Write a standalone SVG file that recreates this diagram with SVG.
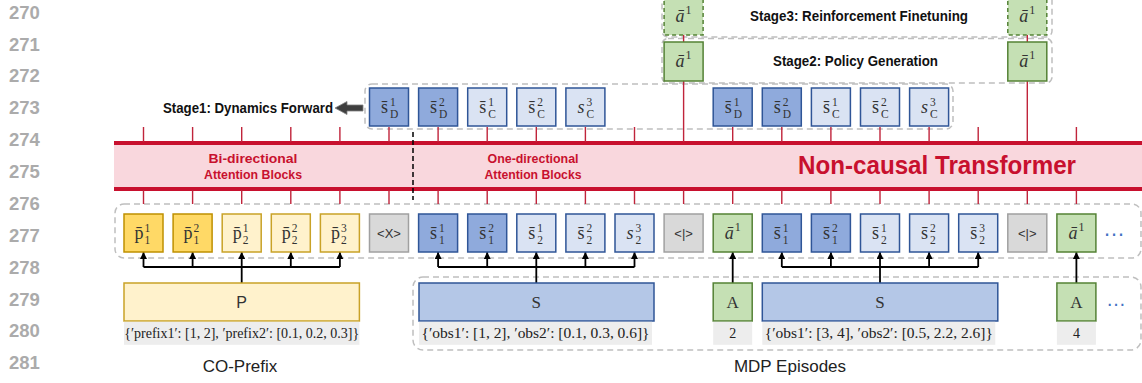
<svg xmlns="http://www.w3.org/2000/svg" width="1142" height="383" viewBox="0 0 1142 383">
<defs>
<style>
.ln{font-family:"Liberation Sans",Arial,sans-serif;font-weight:bold;font-size:18.5px;fill:#ababab}
.b{stroke-width:1.5}
.dy{fill:#FFD966;stroke:#BF9000}
.ly{fill:#FFF2CC;stroke:#C9A227}
.gr{fill:#D9D9D9;stroke:#A0A0A0}
.db{fill:#8FAADC;stroke:#2F5597}
.lb{fill:#DAE3F3;stroke:#2F5597}
.mb{fill:#B4C7E7;stroke:#2F5597}
.gn{fill:#C5E0B4;stroke:#548235}
.dash{stroke-dasharray:4 3}
.m{font-family:"Liberation Serif","DejaVu Serif",serif;font-size:18px;fill:#333;text-anchor:middle}
.i{font-style:italic}
.sp{font-family:"Liberation Serif","DejaVu Serif",serif;font-size:11.5px;fill:#333}
.tx{font-family:"Liberation Sans",Arial,sans-serif;font-size:13px;fill:#333;text-anchor:middle}
.tick{stroke:#C0243B;stroke-width:1.4;fill:none}
.cont{fill:none;stroke:#BFBFBF;stroke-width:1.5;stroke-dasharray:6 4}
.conn{fill:none;stroke:#000;stroke-width:1.8}
.st{font-family:"Liberation Sans",Arial,sans-serif;font-weight:bold;font-size:14px;fill:#111}
.rt{font-family:"Liberation Sans",Arial,sans-serif;font-weight:bold;font-size:13px;fill:#C8102E;text-anchor:middle}
.strip{fill:#EDEDED}
.js{font-family:"Liberation Serif","DejaVu Serif",serif;font-size:14px;fill:#222;text-anchor:middle}
.cap{font-family:"Liberation Sans",Arial,sans-serif;font-size:17px;fill:#222;text-anchor:middle}
.dots{font-family:"Liberation Sans",Arial,sans-serif;font-size:22px;fill:#4472C4}
</style>
<marker id="ah" viewBox="0 0 10 10" refX="10" refY="5" markerWidth="7" markerHeight="7" markerUnits="userSpaceOnUse" orient="auto">
<path d="M0 0L10 5L0 10z" fill="#000"/>
</marker>
</defs>
<rect width="1142" height="383" fill="#fff"/>

<g id="line-numbers">
<text class="ln" x="9" y="19">270</text>
<text class="ln" x="9" y="51">271</text>
<text class="ln" x="9" y="82">272</text>
<text class="ln" x="9" y="114">273</text>
<text class="ln" x="9" y="146">274</text>
<text class="ln" x="9" y="178">275</text>
<text class="ln" x="9" y="210">276</text>
<text class="ln" x="9" y="242">277</text>
<text class="ln" x="9" y="274">278</text>
<text class="ln" x="9" y="306">279</text>
<text class="ln" x="9" y="337">280</text>
<text class="ln" x="9" y="369">281</text>
</g>

<g id="containers">
<rect class="cont" x="662" y="-10" width="390" height="47" rx="6"/>
<rect class="cont" x="662" y="38.5" width="390" height="44.5" rx="6"/>
<rect class="cont" x="365" y="84" width="588" height="45" rx="7"/>
<rect class="cont" x="115" y="204" width="1026" height="54" rx="9"/>
<rect class="cont" x="413" y="277" width="728" height="73" rx="10"/>
</g>

<g id="transformer">
<rect x="114" y="143" width="1030" height="46" fill="#F9D7DD"/>
<line x1="114" y1="143" x2="1142" y2="143" stroke="#C8102E" stroke-width="4"/>
<line x1="114" y1="189" x2="1142" y2="189" stroke="#C8102E" stroke-width="4"/>
<text class="rt" x="253" y="163" textLength="89" lengthAdjust="spacingAndGlyphs">Bi-directional</text>
<text class="rt" x="253" y="179" textLength="98" lengthAdjust="spacingAndGlyphs">Attention Blocks</text>
<text class="rt" x="533" y="163" textLength="91" lengthAdjust="spacingAndGlyphs">One-directional</text>
<text class="rt" x="533" y="179" textLength="97" lengthAdjust="spacingAndGlyphs">Attention Blocks</text>
<text x="798" y="174" font-family="Liberation Sans, Arial, sans-serif" font-weight="bold" font-size="25" fill="#C8102E" textLength="278" lengthAdjust="spacingAndGlyphs">Non-causal Transformer</text>
<line x1="413" y1="132" x2="413" y2="200" stroke="#000" stroke-width="1.5" stroke-dasharray="5 3"/>
</g>

<g id="connectors">
<path class="tick" d="M143.5 127V142M192.6 127V142M241.7 127V142M290.8 127V142M339.9 127V142M389 127V142M438.1 127V142M487.2 127V142M536.3 127V142M585.4 127V142M634.5 127V142M732.7 127V142M781.8 127V142M830.9 127V142M880 127V142M929.1 127V142M978.2 127V142M1076.4 127V142"/>
<path class="tick" d="M683.6 81V142M1027.3 81V142M683.6 35V42M1027.3 35V42"/>
<path class="tick" d="M143.5 190V204M192.6 190V204M241.7 190V204M290.8 190V204M339.9 190V204M389 190V204M438.1 190V204M487.2 190V204M536.3 190V204M585.4 190V204M634.5 190V204M683.6 190V204M732.7 190V204M781.8 190V204M830.9 190V204M880 190V204M929.1 190V204M978.2 190V204M1027.3 190V204M1076.4 190V204"/>
<path class="conn" d="M241.7 283V267M143.5 267H339.9M536.3 283V267M438.1 267H634.5M880 283V267M781.8 267H978.2"/>
<path class="conn" marker-end="url(#ah)" d="M143.5 267V252"/>
<path class="conn" marker-end="url(#ah)" d="M192.6 267V252"/>
<path class="conn" marker-end="url(#ah)" d="M241.7 267V252"/>
<path class="conn" marker-end="url(#ah)" d="M290.8 267V252"/>
<path class="conn" marker-end="url(#ah)" d="M339.9 267V252"/>
<path class="conn" marker-end="url(#ah)" d="M438.1 267V252"/>
<path class="conn" marker-end="url(#ah)" d="M487.2 267V252"/>
<path class="conn" marker-end="url(#ah)" d="M536.3 267V252"/>
<path class="conn" marker-end="url(#ah)" d="M585.4 267V252"/>
<path class="conn" marker-end="url(#ah)" d="M634.5 267V252"/>
<path class="conn" marker-end="url(#ah)" d="M732.7 283V252"/>
<path class="conn" marker-end="url(#ah)" d="M781.8 267V252"/>
<path class="conn" marker-end="url(#ah)" d="M830.9 267V252"/>
<path class="conn" marker-end="url(#ah)" d="M880 267V252"/>
<path class="conn" marker-end="url(#ah)" d="M929.1 267V252"/>
<path class="conn" marker-end="url(#ah)" d="M978.2 267V252"/>
<path class="conn" marker-end="url(#ah)" d="M1076.4 283V252"/>
</g>

<g id="stage-labels">
<text class="st" x="750" y="21" textLength="218" lengthAdjust="spacingAndGlyphs">Stage3: Reinforcement Finetuning</text>
<text class="st" x="773" y="66" textLength="165" lengthAdjust="spacingAndGlyphs">Stage2: Policy Generation</text>
<text class="st" x="163" y="113" textLength="170" lengthAdjust="spacingAndGlyphs">Stage1: Dynamics Forward</text>
<polygon points="335,108 347,101.5 347,105 363,105 363,111 347,111 347,114.5" fill="#3F3F3F" stroke="#808080" stroke-width="0.8"/>
</g>

<!-- stage a boxes -->
<g id="s3-a1a"><rect class="b gn dash" x="664.1" y="-4" width="39" height="39"/><text class="m i" x="680.1" y="22">ā</text><text class="sp" x="685.6" y="14" style="font-size:12px">1</text></g>
<g id="s3-a1b"><rect class="b gn dash" x="1007.8" y="-4" width="39" height="39"/><text class="m i" x="1023.8" y="22">ā</text><text class="sp" x="1029.3" y="14" style="font-size:12px">1</text></g>
<g id="s2-a1a"><rect class="b gn" x="664.1" y="42" width="39" height="39"/><text class="m i" x="680.1" y="67">ā</text><text class="sp" x="685.6" y="59" style="font-size:12px">1</text></g>
<g id="s2-a1b"><rect class="b gn" x="1007.8" y="42" width="39" height="39"/><text class="m i" x="1023.8" y="67">ā</text><text class="sp" x="1029.3" y="59" style="font-size:12px">1</text></g>

<!-- stage1 outputs -->
<g id="o1-sD1"><rect class="b db" x="369.5" y="88" width="39" height="38"/><text class="m" x="384.5" y="113">s̄</text><text class="sp" x="390" y="106">1</text><text class="sp" x="390" y="118">D</text></g>
<g id="o1-sD2"><rect class="b db" x="418.6" y="88" width="39" height="38"/><text class="m" x="433.6" y="113">s̄</text><text class="sp" x="439.1" y="106">2</text><text class="sp" x="439.1" y="118">D</text></g>
<g id="o1-sC1"><rect class="b lb" x="467.7" y="88" width="39" height="38"/><text class="m" x="482.7" y="113">s̄</text><text class="sp" x="488.2" y="106">1</text><text class="sp" x="488.2" y="118">C</text></g>
<g id="o1-sC2"><rect class="b lb" x="516.8" y="88" width="39" height="38"/><text class="m" x="531.8" y="113">s̄</text><text class="sp" x="537.3" y="106">2</text><text class="sp" x="537.3" y="118">C</text></g>
<g id="o1-sC3"><rect class="b lb" x="565.9" y="88" width="39" height="38"/><text class="m i" x="580.9" y="113">s</text><text class="sp" x="586.4" y="106">3</text><text class="sp" x="586.4" y="118">C</text></g>
<g id="o2-sD1"><rect class="b db" x="713.2" y="88" width="39" height="38"/><text class="m" x="728.2" y="113">s̄</text><text class="sp" x="733.7" y="106">1</text><text class="sp" x="733.7" y="118">D</text></g>
<g id="o2-sD2"><rect class="b db" x="762.3" y="88" width="39" height="38"/><text class="m" x="777.3" y="113">s̄</text><text class="sp" x="782.8" y="106">2</text><text class="sp" x="782.8" y="118">D</text></g>
<g id="o2-sC1"><rect class="b lb" x="811.4" y="88" width="39" height="38"/><text class="m" x="826.4" y="113">s̄</text><text class="sp" x="831.9" y="106">1</text><text class="sp" x="831.9" y="118">C</text></g>
<g id="o2-sC2"><rect class="b lb" x="860.5" y="88" width="39" height="38"/><text class="m" x="875.5" y="113">s̄</text><text class="sp" x="881" y="106">2</text><text class="sp" x="881" y="118">C</text></g>
<g id="o2-sC3"><rect class="b lb" x="909.6" y="88" width="39" height="38"/><text class="m i" x="924.6" y="113">s</text><text class="sp" x="930.1" y="106">3</text><text class="sp" x="930.1" y="118">C</text></g>

<!-- token row -->
<g id="t-p11"><rect class="b dy" x="124" y="214" width="39" height="38"/><text class="m" x="139" y="239">p̄</text><text class="sp" x="144.5" y="232">1</text><text class="sp" x="144.5" y="244">1</text></g>
<g id="t-p12"><rect class="b dy" x="173.1" y="214" width="39" height="38"/><text class="m" x="188.1" y="239">p̄</text><text class="sp" x="193.6" y="232">2</text><text class="sp" x="193.6" y="244">1</text></g>
<g id="t-p21"><rect class="b ly" x="222.2" y="214" width="39" height="38"/><text class="m" x="237.2" y="239">p̄</text><text class="sp" x="242.7" y="232">1</text><text class="sp" x="242.7" y="244">2</text></g>
<g id="t-p22"><rect class="b ly" x="271.3" y="214" width="39" height="38"/><text class="m" x="286.3" y="239">p̄</text><text class="sp" x="291.8" y="232">2</text><text class="sp" x="291.8" y="244">2</text></g>
<g id="t-p23"><rect class="b ly" x="320.4" y="214" width="39" height="38"/><text class="m" x="335.4" y="239">p̄</text><text class="sp" x="340.9" y="232">3</text><text class="sp" x="340.9" y="244">2</text></g>
<g id="t-x"><rect class="b gr" x="369.5" y="214" width="39" height="38"/><text class="tx" x="389" y="238">&lt;X&gt;</text></g>
<g id="t-s11"><rect class="b db" x="418.6" y="214" width="39" height="38"/><text class="m" x="433.6" y="239">s̄</text><text class="sp" x="439.1" y="232">1</text><text class="sp" x="439.1" y="244">1</text></g>
<g id="t-s12"><rect class="b db" x="467.7" y="214" width="39" height="38"/><text class="m" x="482.7" y="239">s̄</text><text class="sp" x="488.2" y="232">2</text><text class="sp" x="488.2" y="244">1</text></g>
<g id="t-s21"><rect class="b lb" x="516.8" y="214" width="39" height="38"/><text class="m" x="531.8" y="239">s̄</text><text class="sp" x="537.3" y="232">1</text><text class="sp" x="537.3" y="244">2</text></g>
<g id="t-s22"><rect class="b lb" x="565.9" y="214" width="39" height="38"/><text class="m" x="580.9" y="239">s̄</text><text class="sp" x="586.4" y="232">2</text><text class="sp" x="586.4" y="244">2</text></g>
<g id="t-s23"><rect class="b lb" x="615" y="214" width="39" height="38"/><text class="m i" x="630" y="239">s</text><text class="sp" x="635.5" y="232">3</text><text class="sp" x="635.5" y="244">2</text></g>
<g id="t-sep1"><rect class="b gr" x="664.1" y="214" width="39" height="38"/><text class="tx" x="683.6" y="238">&lt;|&gt;</text></g>
<g id="t-a1"><rect class="b gn" x="713.2" y="214" width="39" height="38"/><text class="m i" x="729.2" y="239">ā</text><text class="sp" x="734.7" y="231" style="font-size:12px">1</text></g>
<g id="t-s11b"><rect class="b db" x="762.3" y="214" width="39" height="38"/><text class="m" x="777.3" y="239">s̄</text><text class="sp" x="782.8" y="232">1</text><text class="sp" x="782.8" y="244">1</text></g>
<g id="t-s12b"><rect class="b db" x="811.4" y="214" width="39" height="38"/><text class="m" x="826.4" y="239">s̄</text><text class="sp" x="831.9" y="232">2</text><text class="sp" x="831.9" y="244">1</text></g>
<g id="t-s21b"><rect class="b lb" x="860.5" y="214" width="39" height="38"/><text class="m" x="875.5" y="239">s̄</text><text class="sp" x="881" y="232">1</text><text class="sp" x="881" y="244">2</text></g>
<g id="t-s22b"><rect class="b lb" x="909.6" y="214" width="39" height="38"/><text class="m" x="924.6" y="239">s̄</text><text class="sp" x="930.1" y="232">2</text><text class="sp" x="930.1" y="244">2</text></g>
<g id="t-s23b"><rect class="b lb" x="958.7" y="214" width="39" height="38"/><text class="m" x="973.7" y="239">s̄</text><text class="sp" x="979.2" y="232">3</text><text class="sp" x="979.2" y="244">2</text></g>
<g id="t-sep2"><rect class="b gr" x="1007.8" y="214" width="39" height="38"/><text class="tx" x="1027.3" y="238">&lt;|&gt;</text></g>
<g id="t-a1b"><rect class="b gn" x="1056.9" y="214" width="39" height="38"/><text class="m i" x="1072.9" y="239">ā</text><text class="sp" x="1078.4" y="231" style="font-size:12px">1</text></g>
<text class="dots" x="1103" y="236">…</text>

<!-- bottom inputs -->
<g id="in-P"><rect class="b ly" x="124" y="283" width="235.4" height="38"/><text class="tx" x="241.7" y="308" style="font-size:16px">P</text><rect class="strip" x="124" y="321.8" width="235.4" height="23"/><text class="js" x="241.7" y="338" textLength="235" lengthAdjust="spacingAndGlyphs">{′prefix1′: [1, 2], ′prefix2′: [0.1, 0.2, 0.3]}</text></g>
<g id="in-S1"><rect class="b mb" x="419" y="283" width="235" height="38"/><text class="m" x="536.3" y="308" style="font-size:17px">S</text><rect class="strip" x="419" y="321.8" width="233" height="23"/><text class="js" x="535.5" y="338" textLength="228" lengthAdjust="spacingAndGlyphs">{′obs1′: [1, 2], ′obs2′: [0.1, 0.3, 0.6]}</text></g>
<g id="in-A1"><rect class="b gn" x="713.2" y="283" width="39" height="38"/><text class="m" x="732.7" y="308" style="font-size:17px">A</text><rect class="strip" x="713.2" y="321.8" width="39" height="23"/><text class="js" x="732.7" y="338">2</text></g>
<g id="in-S2"><rect class="b mb" x="762.3" y="283" width="235.5" height="38"/><text class="m" x="880" y="308" style="font-size:17px">S</text><rect class="strip" x="762.3" y="321.8" width="233" height="23"/><text class="js" x="878.8" y="338" textLength="228" lengthAdjust="spacingAndGlyphs">{′obs1′: [3, 4], ′obs2′: [0.5, 2.2, 2.6]}</text></g>
<g id="in-A2"><rect class="b gn" x="1056.9" y="283" width="39" height="38"/><text class="m" x="1076.4" y="308" style="font-size:17px">A</text><rect class="strip" x="1056.9" y="321.8" width="39" height="23"/><text class="js" x="1076.4" y="338">4</text></g>
<text class="dots" x="1106" y="306" style="font-size:20px">…</text>

<g id="captions">
<text class="cap" x="240" y="372">CO-Prefix</text>
<text class="cap" x="790" y="372">MDP Episodes</text>
</g>
</svg>
